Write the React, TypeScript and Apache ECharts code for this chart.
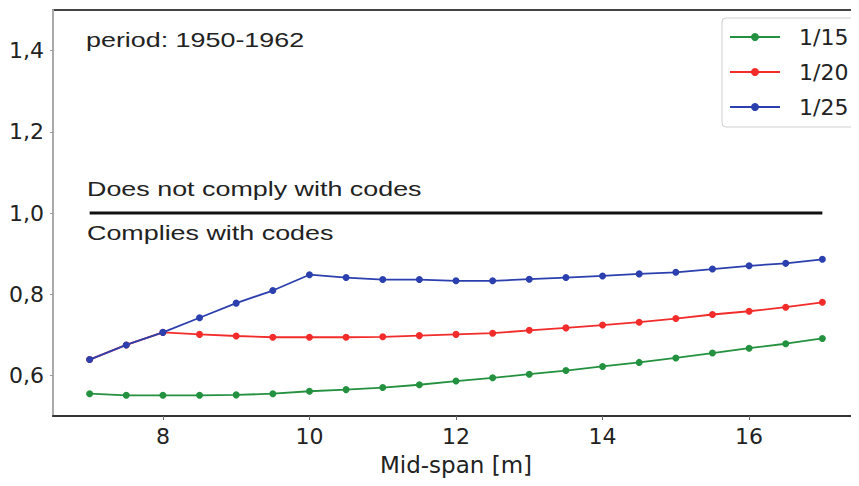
import React, { useEffect, useRef } from "react";
import * as echarts from "echarts";

const spans = [7, 7.5, 8, 8.5, 9, 9.5, 10, 10.5, 11, 11.5, 12, 12.5, 13, 13.5, 14, 14.5, 15, 15.5, 16, 16.5, 17];
const ratio15 = [0.555, 0.551, 0.551, 0.551, 0.552, 0.555, 0.561, 0.565, 0.570, 0.577, 0.586, 0.594, 0.603, 0.612, 0.622, 0.632, 0.643, 0.655, 0.667, 0.678, 0.691];
const ratio20 = [0.639, 0.675, 0.706, 0.701, 0.697, 0.694, 0.694, 0.694, 0.695, 0.698, 0.701, 0.704, 0.711, 0.717, 0.724, 0.731, 0.740, 0.750, 0.758, 0.768, 0.780];
const ratio25 = [0.639, 0.675, 0.706, 0.742, 0.778, 0.809, 0.848, 0.841, 0.836, 0.836, 0.833, 0.833, 0.837, 0.841, 0.845, 0.850, 0.854, 0.862, 0.870, 0.876, 0.886];
const seriesNames = ["1/15", "1/20", "1/25"];
const xTicks = [8, 10, 12, 14, 16];
const yTicks = [0.6, 0.8, 1.0, 1.2, 1.4];
const limitLine = [[7, 1.0], [17, 1.0]];
const periodText = "period: 1950-1962";
const aboveText = "Does not comply with codes";
const belowText = "Complies with codes";
const xAxisName = "Mid-span [m]";

const colors = ["#23913f", "#f22b2b", "#2b3fae"];

export default function App() {
  const ref = useRef<HTMLDivElement>(null);
  useEffect(() => {
    if (!ref.current) return;
    const chart = echarts.init(ref.current, null, { renderer: "svg" });
    const values = [ratio15, ratio20, ratio25];
    const font = "'Liberation Sans', Arial, sans-serif";
    const wide = "'DejaVu Sans', sans-serif";
    const note = (text: string, x: number, y: number) => ({
      type: "text",
      x,
      y,
      scaleX: 1.28,
      z: 10,
      style: { text, fontFamily: font, fontSize: 21, fill: "#222", align: "left", verticalAlign: "middle" },
    });
    chart.setOption({
      animation: false,
      grid: {
        left: 53,
        top: 10,
        width: 816,
        height: 406,
        show: true,
        borderColor: "#444",
        borderWidth: 2,
        backgroundColor: "#fff",
      },
      xAxis: {
        type: "value",
        min: 6.5,
        max: 17.5,
        name: xAxisName,
        nameLocation: "middle",
        nameGap: 37,
        nameTextStyle: { fontFamily: wide, fontSize: 23, color: "#222" },
        axisLine: { show: true, lineStyle: { color: "#333", width: 2 } },
        axisTick: { show: true, length: 4, lineStyle: { color: "#666" }, customValues: xTicks },
        axisLabel: {
          fontFamily: wide,
          fontSize: 22,
          color: "#222",
          margin: 9,
          customValues: xTicks,
          formatter: (v: number) => String(v),
        },
        splitLine: { show: false },
      },
      yAxis: {
        type: "value",
        min: 0.5,
        max: 1.5,
        axisLine: { show: true, lineStyle: { color: "#aaa", width: 2 } },
        axisTick: { show: true, length: 3, lineStyle: { color: "#999" }, customValues: yTicks },
        axisLabel: {
          fontFamily: wide,
          fontSize: 22,
          color: "#222",
          margin: 9,
          customValues: yTicks,
          formatter: (v: number) => v.toFixed(1).replace(".", ","),
        },
        splitLine: { show: false },
      },
      legend: {
        orient: "vertical",
        left: 722,
        top: 18,
        data: seriesNames,
        itemWidth: 50,
        itemHeight: 10,
        itemGap: 13,
        padding: [8, 9, 9, 7],
        borderColor: "#cfcfcf",
        borderWidth: 1,
        borderRadius: 4,
        backgroundColor: "#fff",
        textStyle: { fontFamily: wide, fontSize: 22, color: "#222", padding: [0, 0, 0, 14] },
      },
      series: [
        {
          type: "line",
          data: limitLine,
          symbol: "none",
          lineStyle: { color: "#111", width: 3 },
          silent: true,
          z: 1,
        },
        ...seriesNames.map((name, i) => ({
          name,
          type: "line",
          data: spans.map((x, j) => [x, values[i][j]]),
          symbol: "circle",
          symbolSize: 7,
          color: colors[i],
          lineStyle: { color: colors[i], width: 1.8 },
          itemStyle: { color: colors[i] },
          z: 2 + i,
        })),
      ],
      graphic: [
        note(periodText, 86, 40),
        note(aboveText, 87, 189),
        note(belowText, 87, 233),
      ],
    });
    return () => chart.dispose();
  }, []);
  return <div ref={ref} style={{ width: 859, height: 486, margin: -8 }} />;
}
